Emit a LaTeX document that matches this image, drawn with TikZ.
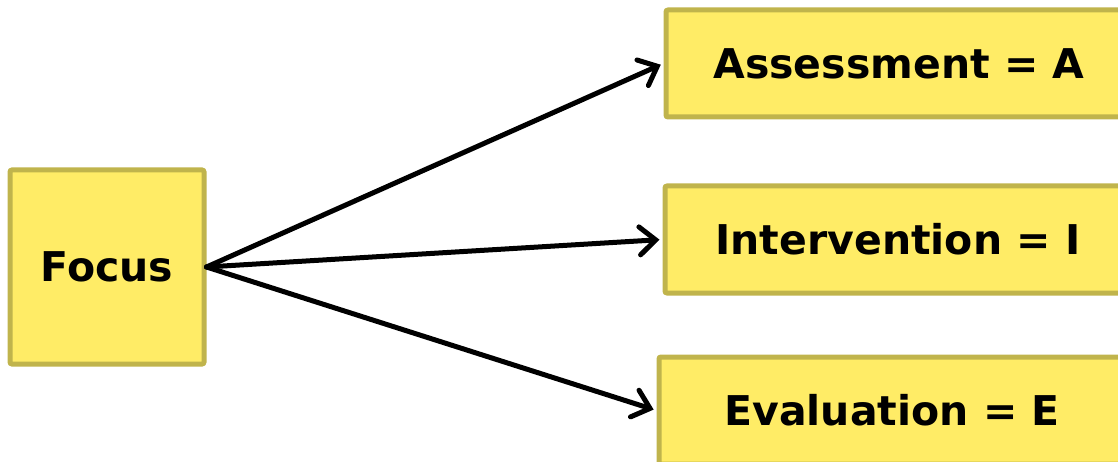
\documentclass[tikz,border=0pt]{standalone}
\usepackage{fontspec}
\setmainfont{DejaVu Sans}
\usetikzlibrary{arrows.meta, positioning}

\begin{document}
\begin{tikzpicture}[x=1pt, y=-1pt]
  % Define colors
  \definecolor{boxfill}{RGB}{255,236,102}
  \definecolor{boxline}{RGB}{192,180,76}
  \tikzset{
    stagebox/.style={draw=boxline, fill=boxfill, line width=5pt, rounded corners=2pt,
                     font=\fontsize{41}{48}\selectfont\bfseries, inner sep=0pt},
    flow/.style={-{Straight Barb[length=16pt, width=28pt, line cap=round]}, line width=5pt,
                 line cap=round, shorten >=3pt}
  }
  \useasboundingbox (0,0) rectangle (1118,462);

  % Starting box on the left
  \node[stagebox, minimum width=194pt, minimum height=194pt] (focus) at (107,267) {Focus};

  % The three stages, each reached by an arrow from the focus box
  \foreach \name/\x/\y/\txt in {
    assess/899/63.5/Assessment = A,
    interv/898/239.5/Intervention = I,
    evalu/892/410.5/Evaluation = E
  } {
    \node[stagebox, minimum width=466pt, minimum height=107pt] (\name) at (\x,\y) {\txt};
    \draw[flow] (focus.east) -- (\name.west);
  }
\end{tikzpicture}
\end{document}
